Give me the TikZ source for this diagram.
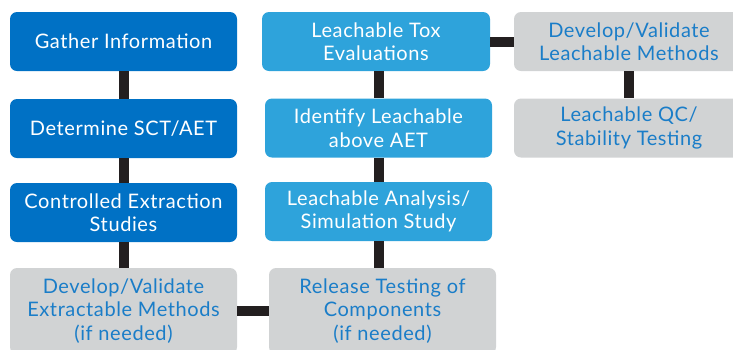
\documentclass[tikz,border=0pt]{standalone}
\usepackage{fontspec}
\setmainfont{Lato}[LetterSpace=3]
\definecolor{darkblue}{HTML}{0071C5}
\definecolor{lightblue}{HTML}{2EA3DB}
\definecolor{boxgray}{HTML}{D1D3D4}
\definecolor{graytext}{HTML}{1A7DC8}
\definecolor{linkcol}{HTML}{231F20}
\begin{document}
\begin{tikzpicture}[x=1pt,y=-1pt,
  stage/.style={rounded corners=7pt, minimum width=227pt, minimum height=59pt,
    inner sep=0pt, align=center, font=\fontsize{20}{23.5}\selectfont},
  darkstage/.style={stage, fill=darkblue, text=white},
  lightstage/.style={stage, fill=lightblue, text=white},
  graystage/.style={stage, fill=boxgray, text=graytext},
  link/.style={draw=linkcol, line width=10pt}]
\useasboundingbox (0,0) rectangle (733,349);
\clip (0,0) rectangle (733,349);
% extractables column
\node[darkstage] (gather) at (123.5,41.5) {Gather Information};
\node[darkstage] (sct) at (123.5,128.5) {Determine SCT/AET};
\node[darkstage] (ces) at (123.5,212.5) {Controlled Extraction\\Studies};
\node[graystage, minimum height=86pt] (devext) at (123.5,311) {Develop/Validate\\Extractable Methods\\(if needed)};
% leachables column
\node[lightstage, minimum width=228pt] (tox) at (376,41.5) {Leachable Tox\\Evaluations};
\node[lightstage] (ident) at (378.5,128) {Identify Leachable\\above AET};
\node[lightstage] (lanal) at (378.5,211.5) {Leachable Analysis/\\Simulation Study};
\node[graystage, minimum height=86pt] (release) at (382.5,311) {Release Testing of\\Components\\(if needed)};
% methods column
\node[graystage, minimum width=230pt] (devleach) at (629,41.5) {Develop/Validate\\Leachable Methods};
\node[graystage, minimum width=230pt] (qc) at (629,128) {Leachable QC/\\Stability Testing};
% connectors
\draw[link] (gather.south) -- (sct.north);
\draw[link] (sct.south) -- (ces.north);
\draw[link] (ces.south) -- (devext.north);
\draw[link] (tox.south -| ident.south) -- (ident.north);
\draw[link] (ident.south) -- (lanal.north);
\draw[link] (lanal.south) -- (lanal.south |- release.north);
\draw[link] (tox.east) -- (devleach.west);
\draw[link] (devleach.south) -- (qc.north);
\draw[link] (devext.east) -- (release.west);
\end{tikzpicture}
\end{document}
